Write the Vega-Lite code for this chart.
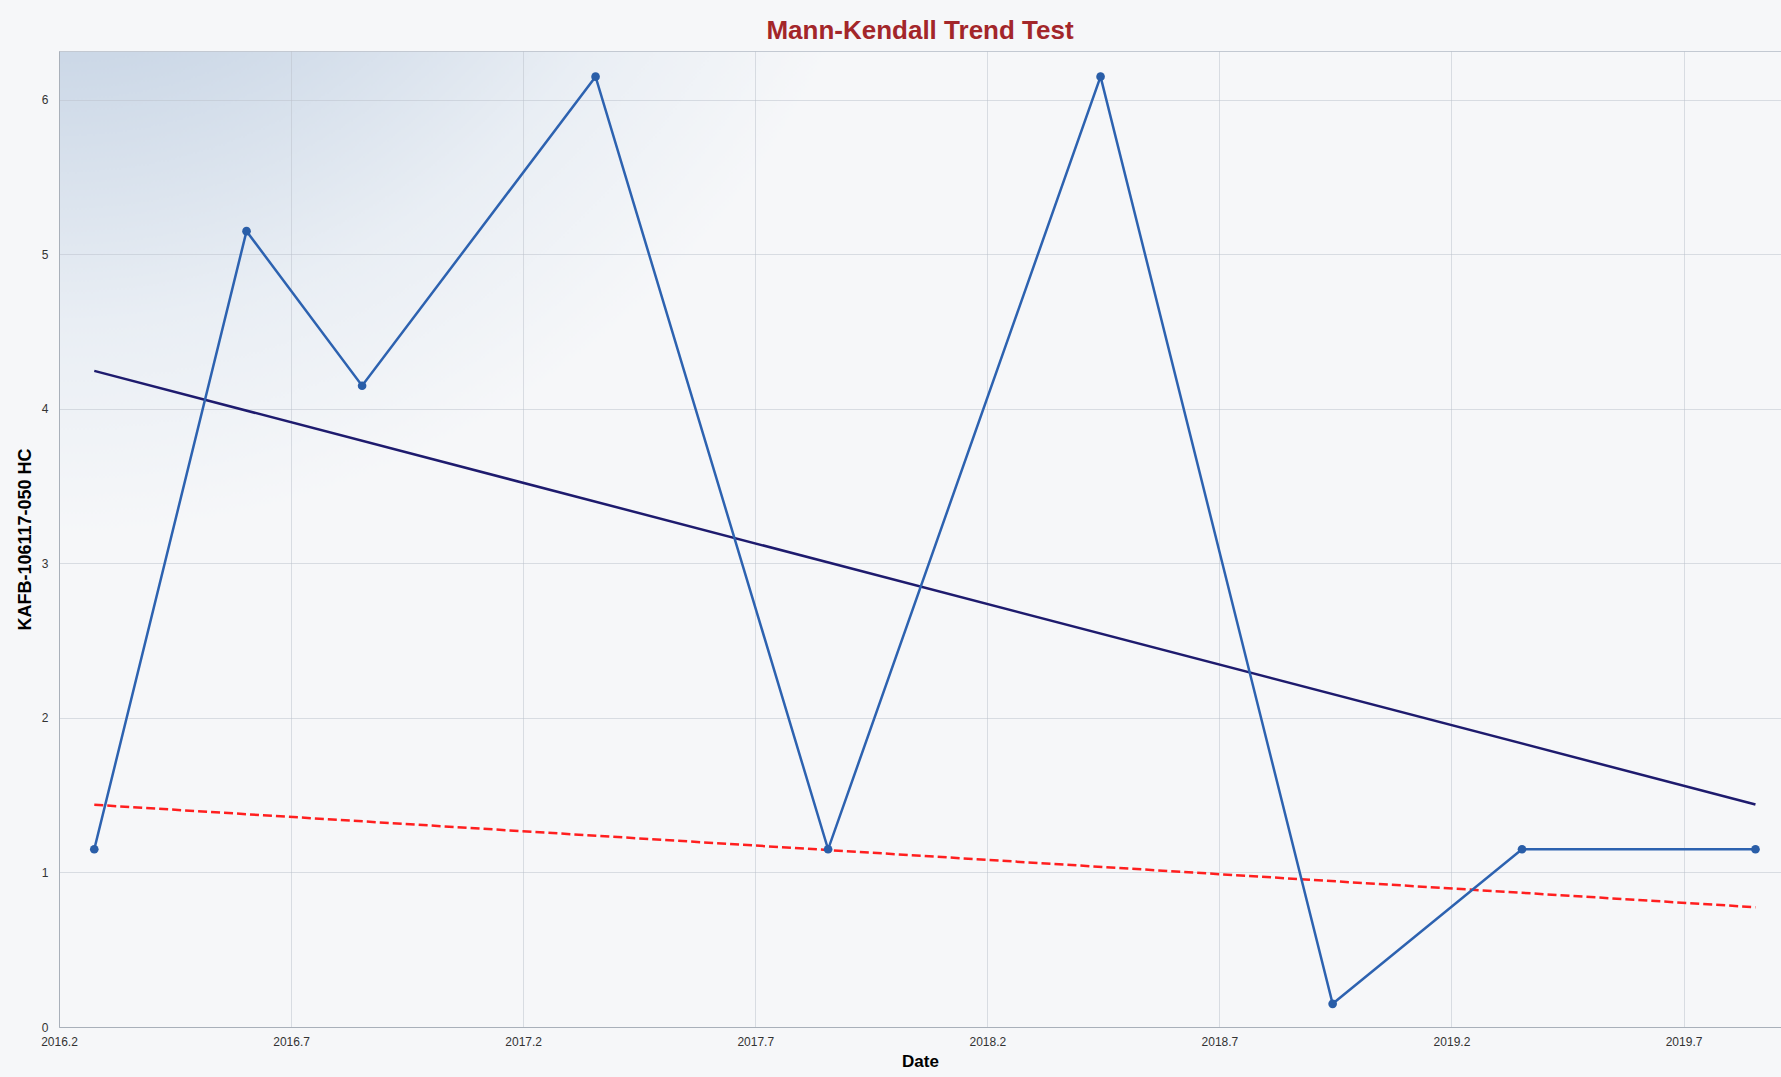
{
  "$schema": "https://vega.github.io/schema/vega-lite/v6.json",
  "autosize": "none",
  "width": 1722,
  "height": 976,
  "padding": {"left": 59, "top": 51, "right": 0, "bottom": 50},
  "background": "#f6f7f9",
  "title": {
    "text": "Mann-Kendall Trend Test",
    "anchor": "middle",
    "font": "Liberation Sans",
    "fontSize": 26,
    "fontWeight": "bold",
    "color": "#a3262a",
    "offset": 7
  },
  "config": {
    "view": {
      "stroke": "#c3c9d2",
      "strokeWidth": 1,
      "fill": {
        "gradient": "radial",
        "x1": 0, "y1": 0, "r1": 0,
        "x2": 0, "y2": 0, "r2": 0.5,
        "stops": [
          {"offset": 0, "color": "#a6bad2"},
          {"offset": 0.4, "color": "#c8d5e5"},
          {"offset": 0.75, "color": "#e9eef4"},
          {"offset": 1, "color": "#f6f7f9"}
        ]
      }
    },
    "axis": {
      "labelFont": "Liberation Sans",
      "titleFont": "Liberation Sans",
      "labelColor": "#333333",
      "titleColor": "#000000",
      "grid": true,
      "gridColor": "#bac1cb",
      "gridDash": [1, 1],
      "gridWidth": 1,
      "domainColor": "#a9b0ba",
      "ticks": false
    }
  },
  "datasets": {
    "obs": [
      {"date": 2016.276, "value": 1.15},
      {"date": 2016.604, "value": 5.15},
      {"date": 2016.853, "value": 4.15},
      {"date": 2017.356, "value": 6.15},
      {"date": 2017.857, "value": 1.15},
      {"date": 2018.444, "value": 6.15},
      {"date": 2018.944, "value": 0.15},
      {"date": 2019.352, "value": 1.15},
      {"date": 2019.855, "value": 1.15}
    ],
    "trend": [
      {"date": 2016.276, "value": 4.246},
      {"date": 2019.855, "value": 1.44}
    ],
    "sen": [
      {"date": 2016.276, "value": 1.438},
      {"date": 2019.855, "value": 0.775}
    ]
  },
  "encoding": {
    "x": {
      "field": "date",
      "type": "quantitative",
      "scale": {"domain": [2016.2, 2019.91], "nice": false, "zero": false},
      "axis": {
        "title": "Date",
        "titleFontSize": 17,
        "titleFontWeight": "bold",
        "titlePadding": 6,
        "values": [2016.2, 2016.7, 2017.2, 2017.7, 2018.2, 2018.7, 2019.2, 2019.7],
        "format": ".1f",
        "labelFontSize": 12,
        "labelPadding": 9,
        "labelFlush": false
      }
    },
    "y": {
      "field": "value",
      "type": "quantitative",
      "scale": {"domain": [0, 6.316], "nice": false},
      "axis": {
        "title": "KAFB-106117-050 HC",
        "titleFontSize": 18,
        "titleFontWeight": "bold",
        "titlePadding": 7,
        "values": [0, 1, 2, 3, 4, 5, 6],
        "format": "d",
        "labelFontSize": 12,
        "labelPadding": 11
      }
    }
  },
  "layer": [
    {
      "data": {"name": "sen"},
      "mark": {"type": "line", "color": "#ff1f1f", "strokeWidth": 2.5, "strokeDash": [9, 4]}
    },
    {
      "data": {"name": "trend"},
      "mark": {"type": "line", "color": "#1e1b6e", "strokeWidth": 2.5}
    },
    {
      "data": {"name": "obs"},
      "mark": {
        "type": "line",
        "color": "#2d62b0",
        "strokeWidth": 2.5,
        "point": {"filled": true, "size": 75, "color": "#2a5ea8"}
      }
    }
  ]
}
